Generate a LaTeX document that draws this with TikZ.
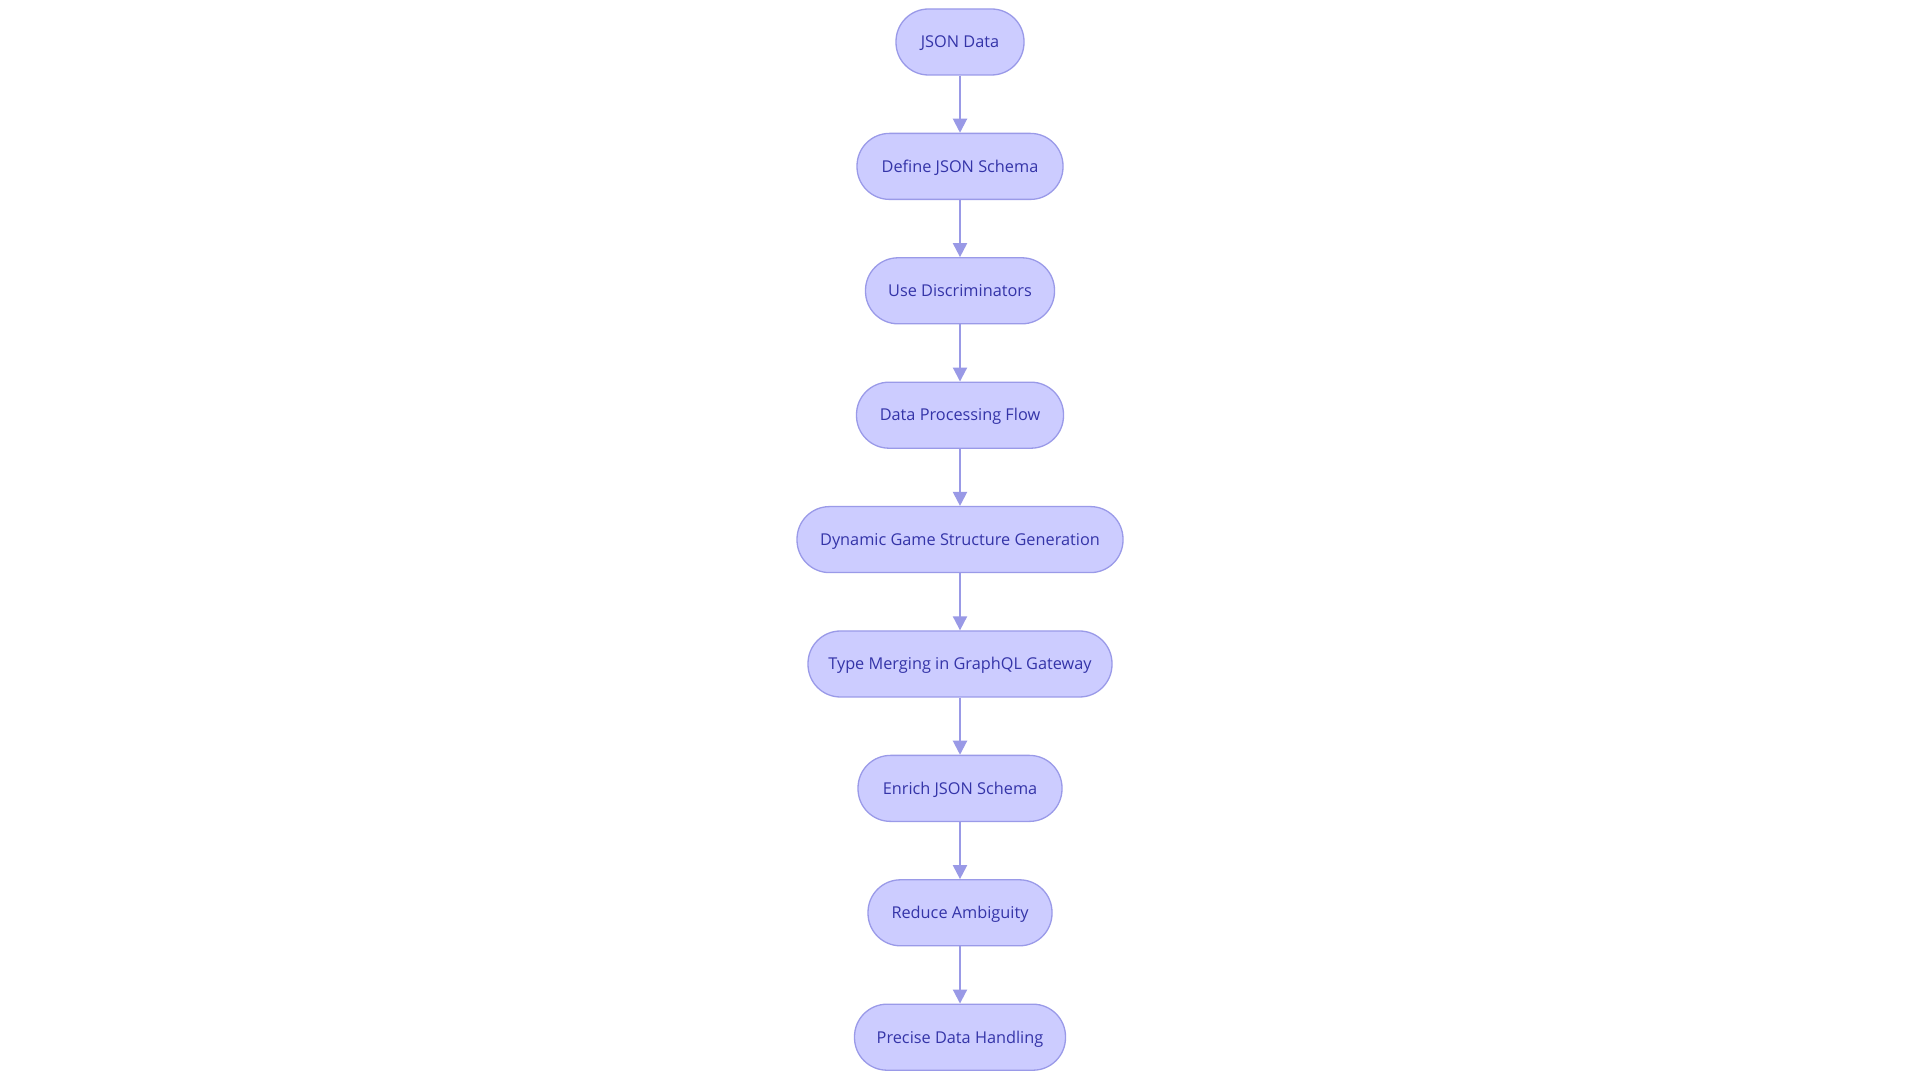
\documentclass[tikz,border=0pt]{standalone}
\usepackage{fontspec}
\setmainfont{Open Sans}
\usetikzlibrary{arrows.meta}
\definecolor{nodefill}{HTML}{CCCCFF}
\definecolor{nodeborder}{HTML}{9A9AE8}
\definecolor{nodetext}{HTML}{3434A8}
\definecolor{edgecol}{HTML}{9999E6}
\tikzset{
  flowbox/.style={draw=nodeborder, fill=nodefill, line width=1.3pt, rounded corners=32.5pt,
    minimum height=66pt, inner xsep=0pt, inner ysep=0pt, text height=11.6pt, text depth=0pt,
    text=nodetext, font=\fontsize{16.3}{19}\selectfont},
  flowarrow/.style={draw=edgecol, line width=2pt, -{Triangle[length=14pt,width=14pt]}}
}
\begin{document}
\begin{tikzpicture}[x=1pt,y=1pt]
\useasboundingbox (0,0) rectangle (1920,1080);
\fill[white] (0,0) rectangle (1920,1080);
\node[flowbox, minimum width=128pt] (n1) at (960,1038) {JSON Data};
\node[flowbox, minimum width=206pt] (n2) at (960,913.6) {Define JSON Schema};
\node[flowbox, minimum width=189pt] (n3) at (960,789.2) {Use Discriminators};
\node[flowbox, minimum width=207pt] (n4) at (960,664.8) {Data Processing Flow};
\node[flowbox, minimum width=326pt] (n5) at (960,540.4) {Dynamic Game Structure Generation};
\node[flowbox, minimum width=304pt] (n6) at (960,416.0) {Type Merging in GraphQL Gateway};
\node[flowbox, minimum width=204pt] (n7) at (960,291.6) {Enrich JSON Schema};
\node[flowbox, minimum width=184pt] (n8) at (960,167.2) {Reduce Ambiguity};
\node[flowbox, minimum width=211pt] (n9) at (960,42.8) {Precise Data Handling};
\foreach \a/\b in {n1/n2,n2/n3,n3/n4,n4/n5,n5/n6,n6/n7,n7/n8,n8/n9}
  \draw[flowarrow] (\a.south) -- (\b.north);
\end{tikzpicture}
\end{document}
